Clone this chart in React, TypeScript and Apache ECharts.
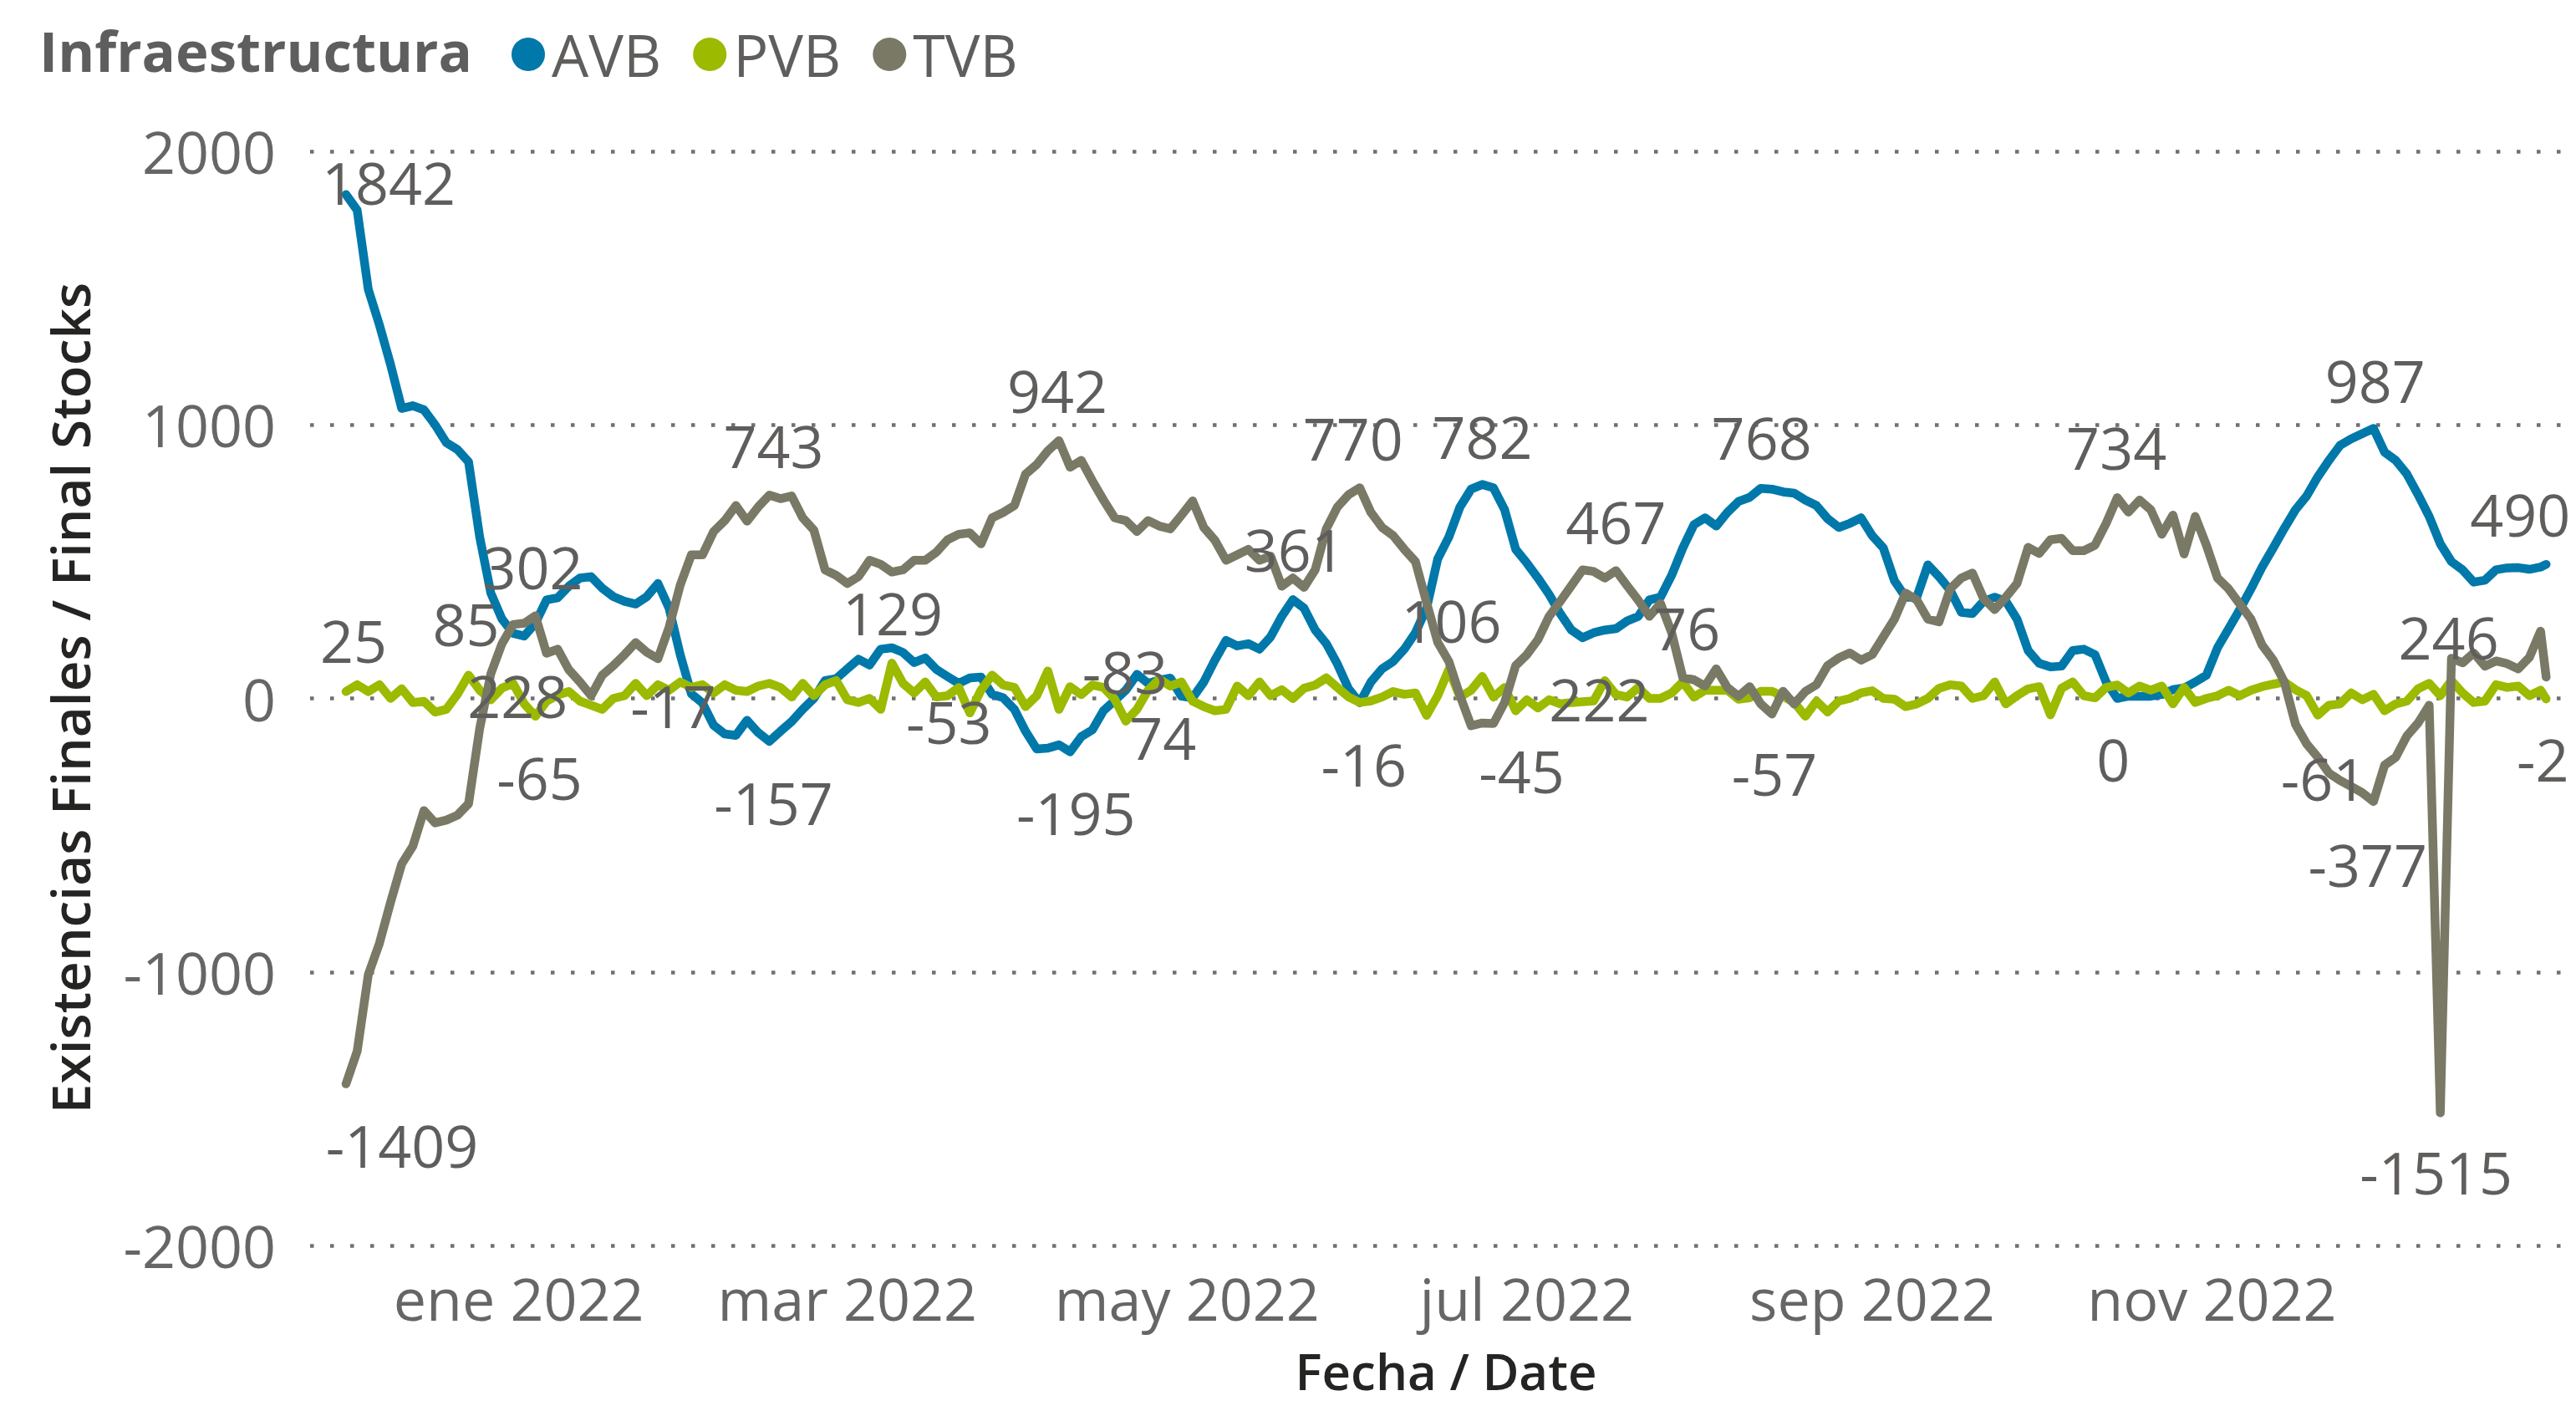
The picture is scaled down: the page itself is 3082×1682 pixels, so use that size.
import React, { useEffect, useRef } from "react";
import * as echarts from "echarts";

const FONT = "'Open Sans', 'Noto Sans', sans-serif";

// One reading every STEP_DAYS days from START, the last one on END
const START = "2021-12-01";
const END = "2022-12-31";
const STEP_DAYS = 2;

const SERIES_NAMES = ["AVB", "PVB", "TVB"];

const AVB_VALUES = [
  1842, 1785, 1495, 1365, 1220, 1060, 1070, 1055, 1000, 935,
  910, 865, 590, 385, 290, 238, 228, 275, 360, 368,
  410, 440, 445, 403, 372, 355, 345, 372, 420, 330,
  160, 17, -17, -98, -130, -135, -80, -125, -157, -120,
  -85, -40, 0, 65, 72, 108, 143, 122, 180, 185,
  168, 131, 148, 106, 80, 55, 75, 78, 15, 2,
  -40, -120, -185, -182, -170, -195, -140, -115, -45, -8,
  30, 88, 55, 67, 74, 8, 2, 60, 140, 212,
  192, 200, 180, 225, 300, 361, 330, 250, 200, 125,
  35, -16, 60, 108, 135, 180, 240, 330, 510, 590,
  700, 765, 782, 770, 690, 545, 495, 440, 380, 310,
  250, 222, 240, 250, 255, 283, 300, 360, 370, 450,
  550, 635, 660, 630, 680, 720, 735, 768, 765, 755,
  750, 725, 705, 657, 625, 640, 660, 595, 550, 430,
  370, 370, 488, 445, 395, 315, 310, 355, 370, 355,
  290, 175, 128, 115, 118, 175, 180, 160, 60, 0,
  8, 8, 8, 14, 32, 38, 60, 85, 185, 255,
  325, 400, 480, 550, 622, 690, 740, 810, 870, 925,
  949, 968, 987, 900, 870, 820, 745, 665, 565, 500,
  470, 425, 432, 470, 477, 478, 472, 480, 490,
];

const PVB_VALUES = [
  25, 50, 25, 50, 0, 35, -15, -11, -50, -40,
  15, 85, 30, -5, 38, 55, -20, -65, -10, 12,
  25, -10, -25, -40, 0, 10, 55, 10, 50, 30,
  60, 40, 50, 20, 50, 30, 25, 45, 55, 40,
  5, 55, 10, 50, 65, -5, -15, 0, -40, 129,
  55, 20, 60, 5, 10, 40, -53, 30, 85, 49,
  40, -30, 10, 100, -40, 43, 14, 49, 40, -3,
  -83, -40, 30, 70, 45, 60, -10, -30, -45, -40,
  45, 10, 60, 10, 32, 0, 37, 49, 75, 40,
  5, -15, -9, 5, 25, 15, 20, -62, 10, 106,
  5, 30, 80, 5, 40, -45, -5, -35, -5, -20,
  -15, -12, -9, 65, 14, 5, 40, 0, 0, 20,
  60, 5, 30, 30, 30, -3, 2, 26, 26, 8,
  -15, -65, -10, -50, -10, 0, 20, 28, 0, -3,
  -30, -20, 0, 37, 50, 45, 0, 10, 60, -20,
  10, 35, 43, -60, 37, 60, 10, 2, 40, 49,
  20, 45, 30, 45, -20, 40, -15, 0, 10, 30,
  10, 30, 43, 52, 60, 32, 10, -61, -25, -20,
  20, -5, 15, -45, -20, -10, 35, 55, 10, 65,
  20, -15, -10, 50, 40, 45, 10, 30, -2,
];

const TVB_VALUES = [
  -1409, -1290, -1010, -895, -745, -605, -540, -410, -455, -445,
  -427, -385, -110, 90, 200, 270, 275, 302, 165, 180,
  105, 60, 10, 85, 120, 160, 204, 169, 145, 260,
  414, 525, 525, 610, 650, 705, 648, 700, 743, 730,
  740, 660, 615, 470, 450, 420, 445, 505, 490, 462,
  470, 505, 505, 535, 580, 600, 605, 565, 660, 680,
  705, 820, 855, 905, 942, 845, 870, 795, 725, 660,
  650, 610, 650, 630, 620, 670, 722, 625, 578, 505,
  525, 545, 505, 520, 410, 440, 406, 470, 620, 700,
  745, 770, 680, 625, 595, 545, 500, 350, 205, 135,
  10, -100, -90, -92, -15, 120, 160, 215, 300, 355,
  412, 470, 464, 440, 467, 412, 359, 300, 347, 240,
  76, 68, 45, 108, 40, 8, 43, -20, -57, 26,
  -21, 25, 50, 120, 148, 166, 140, 160, 225, 290,
  385, 360, 290, 280, 400, 440, 458, 365, 325, 370,
  420, 552, 530, 580, 585, 540, 540, 560, 640, 734,
  681, 725, 690, 600, 670, 528, 665, 560, 440, 400,
  345, 290, 195, 140, 60, -95, -166, -215, -273, -300,
  -322, -345, -377, -244, -215, -137, -90, -25, -1515, 147,
  130, 166, 118, 137, 127, 108, 150, 246, 78,
];

const X_TICK_DATES = ["2022-01-01", "2022-03-01", "2022-05-01", "2022-07-01", "2022-09-01", "2022-11-01"];
const MONTHS_ES = ["ene", "feb", "mar", "abr", "may", "jun", "jul", "ago", "sep", "oct", "nov", "dic"];
const Y_MIN = -2000;
const Y_MAX = 2000;
const Y_STEP = 1000;

const TITLE = "Infraestructura";
const Y_TITLE = "Existencias Finales / Final Stocks";
const X_TITLE = "Fecha / Date";

// Which points carry a data label, and where the label sits relative to its point (px)
const LABELED_POINTS = [
  { series: "AVB", day: 0, offset: [51, -15] },
  { series: "AVB", day: 32, offset: [-8, 71] },
  { series: "AVB", day: 64, offset: [-35, 3] },
  { series: "AVB", day: 76, offset: [5, 73] },
  { series: "AVB", day: 130, offset: [7, 73] },
  { series: "AVB", day: 148, offset: [-9, 71] },
  { series: "AVB", day: 170, offset: [2, -60] },
  { series: "AVB", day: 182, offset: [5, 73] },
  { series: "AVB", day: 204, offset: [0, -58] },
  { series: "AVB", day: 222, offset: [20, 73] },
  { series: "AVB", day: 254, offset: [1, -61] },
  { series: "AVB", day: 318, offset: [-5, 72] },
  { series: "AVB", day: 364, offset: [2, -58] },
  { series: "AVB", day: 395, offset: [-31, -60] },
  { series: "TVB", day: 0, offset: [67, 73] },
  { series: "TVB", day: 34, offset: [-3, -59] },
  { series: "TVB", day: 76, offset: [5, -59] },
  { series: "TVB", day: 128, offset: [-2, -60] },
  { series: "TVB", day: 182, offset: [-8, -60] },
  { series: "TVB", day: 228, offset: [0, -59] },
  { series: "TVB", day: 240, offset: [5, -60] },
  { series: "TVB", day: 256, offset: [3, 71] },
  { series: "TVB", day: 318, offset: [-1, -60] },
  { series: "TVB", day: 364, offset: [-7, 75] },
  { series: "TVB", day: 376, offset: [-5, 71] },
  { series: "TVB", day: 394, offset: [-110, 7] },
  { series: "PVB", day: 0, offset: [9, -61] },
  { series: "PVB", day: 22, offset: [-3, -62] },
  { series: "PVB", day: 34, offset: [5, 73] },
  { series: "PVB", day: 98, offset: [1, -60] },
  { series: "PVB", day: 112, offset: [-25, 10] },
  { series: "PVB", day: 140, offset: [-1, -60] },
  { series: "PVB", day: 198, offset: [3, -59] },
  { series: "PVB", day: 210, offset: [7, 72] },
  { series: "PVB", day: 354, offset: [7, 76] },
  { series: "PVB", day: 395, offset: [-4, 72] },
];

const COLORS: Record<string, string> = { AVB: "#0078AA", PVB: "#9BBA00", TVB: "#797966" };

const DAY_MS = 86400000;
const startMs = Date.parse(START + "T00:00:00Z");
const daysFromStart = (iso: string) => Math.round((Date.parse(iso + "T00:00:00Z") - startMs) / DAY_MS);
const endDay = daysFromStart(END);
const dayOf = (i: number) => Math.min(i * STEP_DAYS, endDay);

function buildData(name: string, values: number[]) {
  return values.map((v, i) => {
    const day = dayOf(i);
    const item: any = { value: [day, v] };
    const lab = LABELED_POINTS.find((l) => l.series === name && l.day === day);
    if (lab) item.label = { show: true, position: "inside", offset: lab.offset };
    return item;
  });
}

const VALUES: Record<string, number[]> = { AVB: AVB_VALUES, PVB: PVB_VALUES, TVB: TVB_VALUES };

function formatDay(day: number) {
  const d = new Date(startMs + Math.round(day) * DAY_MS);
  return MONTHS_ES[d.getUTCMonth()] + " " + d.getUTCFullYear();
}

function buildOption(): any {
  return {
    animation: false,
    backgroundColor: "#ffffff",
    textStyle: { fontFamily: FONT },
    grid: { left: 371, right: 16, top: 181, bottom: 192 },
    legend: {
      data: SERIES_NAMES,
      left: 607,
      top: 25,
      icon: "circle",
      itemWidth: 40,
      itemHeight: 40,
      itemGap: 38,
      selectedMode: false,
      textStyle: { fontSize: 70, color: "#605E5C", fontFamily: FONT, padding: [0, 0, 0, 3] },
    },
    graphic: [
      {
        type: "text",
        x: 47,
        y: 60,
        style: {
          text: TITLE,
          fontSize: 67,
          fontWeight: "bold",
          fontFamily: FONT,
          fill: "#5E5E5E",
          align: "left",
          verticalAlign: "middle",
        },
      },
      {
        type: "text",
        x: 83,
        y: 835,
        rotation: Math.PI / 2,
        style: {
          text: Y_TITLE,
          fontSize: 64,
          fontWeight: 600,
          fontFamily: FONT,
          fill: "#252423",
          align: "center",
          verticalAlign: "middle",
        },
      },
      {
        type: "text",
        x: 1730,
        y: 1640,
        style: {
          text: X_TITLE,
          fontSize: 60,
          fontWeight: 600,
          fontFamily: FONT,
          fill: "#252423",
          align: "center",
          verticalAlign: "middle",
        },
      },
    ],
    xAxis: {
      type: "value",
      min: -6.45,
      max: 397.96,
      axisLine: { show: false },
      axisTick: { show: false },
      splitLine: { show: false },
      axisLabel: {
        customValues: X_TICK_DATES.map(daysFromStart),
        formatter: (v: number) => formatDay(v),
        fontSize: 70,
        color: "#666666",
        fontFamily: FONT,
        margin: 28,
        showMinLabel: true,
        showMaxLabel: true,
        hideOverlap: false,
      },
    },
    yAxis: {
      type: "value",
      min: Y_MIN,
      max: Y_MAX,
      interval: Y_STEP,
      axisLine: { show: false },
      axisTick: { show: false },
      axisLabel: {
        fontSize: 70,
        color: "#666666",
        fontFamily: FONT,
        margin: 41,
        formatter: (v: number) => String(v),
      },
      splitLine: { show: true, lineStyle: { color: "#707070", width: 4.5, type: [4.5, 19.5] } },
    },
    series: SERIES_NAMES.map((name) => ({
      name,
      type: "line",
      data: buildData(name, VALUES[name]),
      showSymbol: true,
      symbol: "circle",
      symbolSize: 0.01,
      itemStyle: { color: COLORS[name] },
      lineStyle: { width: 10.5, color: COLORS[name], cap: "round", join: "round" },
      label: { show: false, color: "#605E5C", fontSize: 70, fontFamily: FONT },
      emphasis: { disabled: true },
    })),
  };
}

export default function App() {
  const ref = useRef<HTMLDivElement>(null);
  useEffect(() => {
    if (!ref.current) return;
    const chart = echarts.init(ref.current, null, { renderer: "svg" });
    chart.setOption(buildOption());
    return () => chart.dispose();
  }, []);
  return (
    <div
      ref={ref}
      style={{ position: "fixed", left: 0, top: 0, width: 3082, height: 1682, background: "#ffffff" }}
    />
  );
}
